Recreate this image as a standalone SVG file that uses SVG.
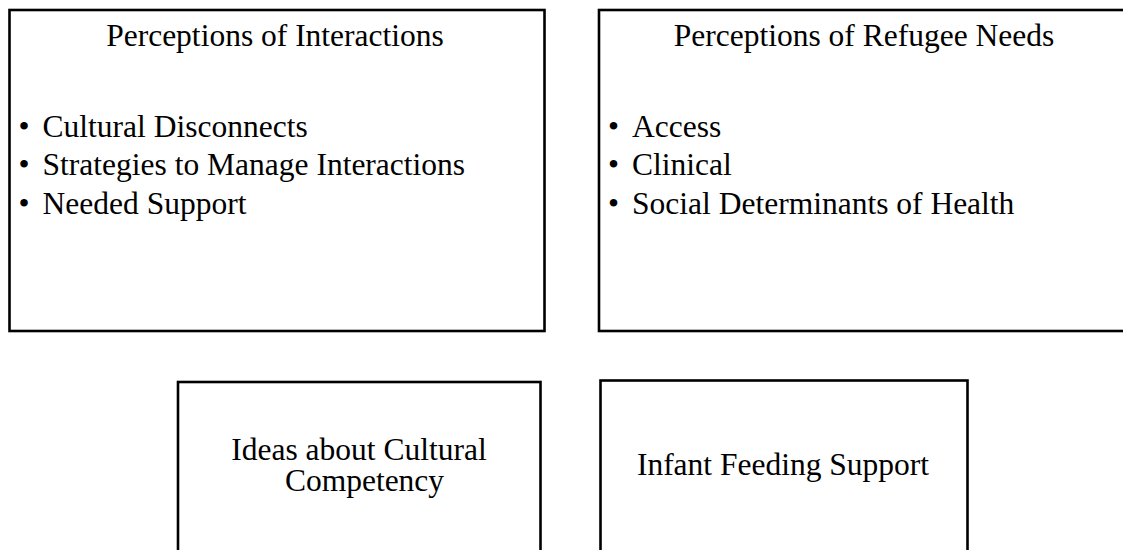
<svg xmlns="http://www.w3.org/2000/svg" width="1123" height="550" viewBox="0 0 1123 550">
<style>
.box{fill:#fff;stroke:#000;stroke-width:2.6}
.t{font-family:"Liberation Serif","Times New Roman",serif;font-size:31.5px;fill:#000}
.c{text-anchor:middle}
</style>
<rect width="1123" height="550" fill="#fff"/>
<g id="connectors"></g>
<g id="node-interactions">
<rect class="box" x="9.5" y="10" width="535" height="321"/>
<text class="t c" x="275" y="46">Perceptions of Interactions</text>
<text class="t" y="136.5"><tspan x="18.5">•</tspan><tspan x="42.6">Cultural Disconnects</tspan></text>
<text class="t" y="175"><tspan x="18.5">•</tspan><tspan x="42.6">Strategies to Manage Interactions</tspan></text>
<text class="t" y="213.5"><tspan x="18.5">•</tspan><tspan x="42.6">Needed Support</tspan></text>
</g>
<g id="node-needs">
<rect class="box" x="599" y="10" width="535" height="321"/>
<text class="t c" x="864" y="46">Perceptions of Refugee Needs</text>
<text class="t" y="136.5"><tspan x="608">•</tspan><tspan x="632.1">Access</tspan></text>
<text class="t" y="175"><tspan x="608">•</tspan><tspan x="632.1">Clinical</tspan></text>
<text class="t" y="213.5"><tspan x="608">•</tspan><tspan x="632.1">Social Determinants of Health</tspan></text>
</g>
<g id="node-competency">
<rect class="box" x="178" y="382" width="362.5" height="180"/>
<text class="t c"><tspan x="359" y="460">Ideas about Cultural</tspan><tspan x="364.5" y="491">Competency</tspan></text>
</g>
<g id="node-feeding">
<rect class="box" x="600.5" y="380.5" width="367" height="180"/>
<text class="t c" x="783" y="475">Infant Feeding Support</text>
</g>
</svg>
